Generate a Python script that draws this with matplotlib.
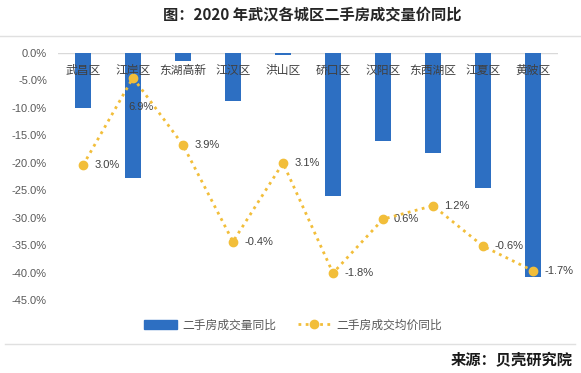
import matplotlib
matplotlib.use('Agg')
import matplotlib.pyplot as plt
from matplotlib.lines import Line2D
from matplotlib.patches import Patch
from matplotlib.ticker import FuncFormatter

plt.rcParams['font.family'] = ['Noto Sans CJK SC', 'DejaVu Sans']

districts = ['武昌区', '江岸区', '东湖高新', '江汉区', '洪山区',
             '硚口区', '汉阳区', '东西湖区', '江夏区', '黄陂区']
volume_yoy = [-10.0, -22.8, -1.5, -8.7, -0.4, -26.0, -16.0, -18.3, -24.6, -40.8]
price_yoy = [3.0, 6.9, 3.9, -0.4, 3.1, -1.8, 0.6, 1.2, -0.6, -1.7]
price_labels = ['3.0%', '6.9%', '3.9%', '-0.4%', '3.1%', '-1.8%', '0.6%', '1.2%', '-0.6%', '-1.7%']

blue = '#2D6FC2'
gold = '#F2BE3A'
grey_txt = '#595959'

fig = plt.figure(figsize=(5.81, 3.73), dpi=100)
ax = fig.add_axes([58 / 581, 1 - 300 / 373, 500 / 581, 247 / 373])
x = list(range(len(districts)))

ax.bar(x, volume_yoy, width=0.32, color=blue, zorder=2)
ax.set_ylim(-45, 0)
ax.set_xlim(-0.5, len(districts) - 0.5)
ax.set_yticks(range(0, -50, -5))
ax.yaxis.set_major_formatter(FuncFormatter(lambda v, p: '%.1f%%' % v))
ax.tick_params(axis='y', length=0, pad=8, labelsize=8, labelcolor=grey_txt)
for lab in ax.get_yticklabels():
    lab.set_family(['Liberation Sans', 'DejaVu Sans'])
ax.set_xticks([])
for s in ax.spines.values():
    s.set_visible(False)
ax.axhline(0, color='#D9D9D9', lw=1, zorder=1)

for i, name in enumerate(districts):
    ax.text(i, -3.1, name, ha='center', va='center', fontsize=8.5, color='#404040', zorder=3)

ax2 = ax.twinx()
ax2.set_ylim(-3, 8)
ax2.plot(x, price_yoy, color=gold, lw=2, ls=(0, (1, 1.6)), marker='o', ms=6, zorder=4)
ax2.axis('off')
for i, (v, t) in enumerate(zip(price_yoy, price_labels)):
    if i == 1:
        ax2.annotate(t, (i, v), xytext=(6, -21), textcoords='offset points',
                     ha='center', va='center', fontsize=8, color='#404040',
                     family=['Liberation Sans', 'DejaVu Sans'])
    else:
        ax2.annotate(t, (i, v), xytext=(8, 0), textcoords='offset points',
                     ha='left', va='center', fontsize=8, color='#404040',
                     family=['Liberation Sans', 'DejaVu Sans'])

fig.text(312 / 581, 1 - 15 / 373, '图：2020 年武汉各城区二手房成交量价同比', ha='center', va='center',
         fontsize=11, fontweight='bold', color='#262626')
fig.add_artist(Line2D([0, 1], [1 - 36 / 373] * 2, color='#E0E0E0', lw=1))
fig.add_artist(Line2D([5 / 581, 575 / 581], [1 - 344 / 373] * 2, color='#E0E0E0', lw=1))
fig.text(573 / 581, 1 - 360 / 373, '来源：贝壳研究院', ha='right', va='center',
         fontsize=11, fontweight='bold', color='#1A1A1A')

handles = [Patch(color=blue),
           Line2D([], [], color=gold, lw=2, ls=(0, (1, 1.6)), marker='o', ms=6)]
fig.legend(handles, ['二手房成交量同比', '二手房成交均价同比'], loc='center',
           bbox_to_anchor=(293 / 581, 1 - 325 / 373), ncol=2, frameon=False,
           fontsize=8.5, labelcolor=grey_txt, handlelength=2.8, columnspacing=1.8,
           handletextpad=0.5)

fig.savefig('out.png', dpi=100)
